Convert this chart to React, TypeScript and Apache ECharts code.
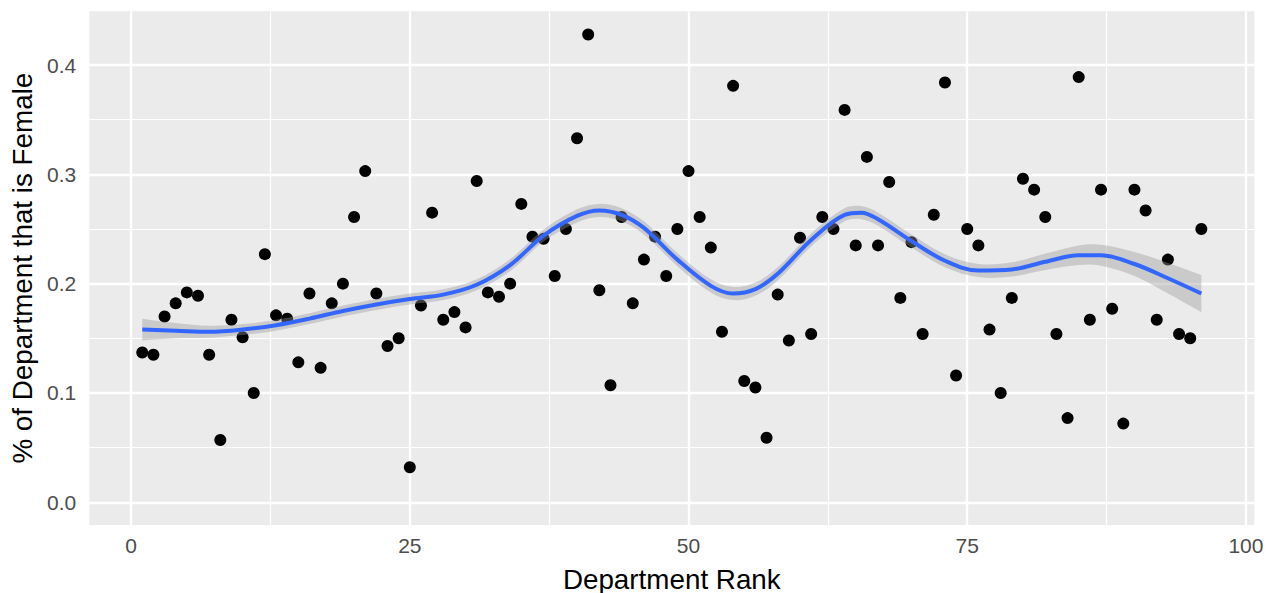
import React, { useEffect, useRef } from "react";
import * as echarts from "echarts";

// Share of each department that is female, by department rank 1..96
const femaleShare = [
  0.137, 0.135, 0.170, 0.182, 0.192, 0.189, 0.135, 0.057, 0.167, 0.151,
  0.100, 0.227, 0.171, 0.168, 0.128, 0.191, 0.123, 0.182, 0.200, 0.261,
  0.303, 0.191, 0.143, 0.150, 0.032, 0.180, 0.265, 0.167, 0.174, 0.160,
  0.294, 0.192, 0.188, 0.200, 0.273, 0.243, 0.241, 0.207, 0.250, 0.333,
  0.428, 0.194, 0.107, 0.261, 0.182, 0.222, 0.243, 0.207, 0.250, 0.303,
  0.261, 0.233, 0.156, 0.381, 0.111, 0.105, 0.059, 0.190, 0.148, 0.242,
  0.154, 0.261, 0.250, 0.359, 0.235, 0.316, 0.235, 0.293, 0.187, 0.238,
  0.154, 0.263, 0.384, 0.116, 0.250, 0.235, 0.158, 0.100, 0.187, 0.296,
  0.286, 0.261, 0.154, 0.077, 0.389, 0.167, 0.286, 0.177, 0.072, 0.286,
  0.267, 0.167, 0.222, 0.154, 0.150, 0.250,
];

// Loess fit
const smoothRank = [1, 4, 7, 10, 13, 16, 19, 22, 25, 28, 31, 34, 37, 40, 42, 44, 46, 49, 52, 54, 56, 58, 61, 64, 65.5, 67, 70, 73, 76, 79, 82, 85, 87, 90, 93, 96];
const smoothFit = [0.158, 0.157, 0.156, 0.158, 0.162, 0.168, 0.175, 0.181, 0.186, 0.190, 0.199, 0.217, 0.244, 0.262, 0.267, 0.263, 0.251, 0.222, 0.198, 0.191, 0.195, 0.209, 0.240, 0.263, 0.265, 0.259, 0.239, 0.221, 0.212, 0.213, 0.220, 0.226, 0.226, 0.218, 0.205, 0.191];
const smoothHalfWidth = [0.010, 0.007, 0.0055, 0.005, 0.005, 0.005, 0.005, 0.005, 0.005, 0.005, 0.005, 0.0055, 0.0055, 0.006, 0.006, 0.006, 0.006, 0.006, 0.006, 0.006, 0.006, 0.006, 0.006, 0.006, 0.006, 0.006, 0.006, 0.006, 0.006, 0.0065, 0.0075, 0.009, 0.0095, 0.011, 0.014, 0.017];

const xTicks = [0, 25, 50, 75, 100];
const xMinor = [12.5, 37.5, 62.5, 87.5];
const yTicks = [0, 0.1, 0.2, 0.3, 0.4];
const yMinor = [0.05, 0.15, 0.25, 0.35];

const SMOOTH = 0.35;

type Pt = number[];

function smoothSegments(ctx: any, pts: Pt[], moveFirst: boolean) {
  const n = pts.length;
  const cpPrev: Pt[] = [];
  const cpNext: Pt[] = [];
  for (let i = 0; i < n; i++) {
    const p = pts[i];
    if (i === 0 || i === n - 1) {
      cpPrev.push(p);
      cpNext.push(p);
      continue;
    }
    const p0 = pts[i - 1];
    const p2 = pts[i + 1];
    const vx = p2[0] - p0[0];
    const vy = p2[1] - p0[1];
    const d0 = Math.hypot(p[0] - p0[0], p[1] - p0[1]);
    const d1 = Math.hypot(p2[0] - p[0], p2[1] - p[1]);
    const sum = d0 + d1 || 1;
    cpPrev.push([p[0] - vx * SMOOTH * (d0 / sum), p[1] - vy * SMOOTH * (d0 / sum)]);
    cpNext.push([p[0] + vx * SMOOTH * (d1 / sum), p[1] + vy * SMOOTH * (d1 / sum)]);
  }
  if (moveFirst) ctx.moveTo(pts[0][0], pts[0][1]);
  else ctx.lineTo(pts[0][0], pts[0][1]);
  for (let i = 0; i < n - 1; i++) {
    ctx.bezierCurveTo(cpNext[i][0], cpNext[i][1], cpPrev[i + 1][0], cpPrev[i + 1][1], pts[i + 1][0], pts[i + 1][1]);
  }
}

let registered = false;
function registerRibbon() {
  if (registered) return;
  registered = true;
  const Ribbon = (echarts.graphic as any).extendShape({
    shape: { upper: [] as Pt[], lower: [] as Pt[] },
    buildPath(ctx: any, shape: { upper: Pt[]; lower: Pt[] }) {
      if (!shape.upper.length) return;
      smoothSegments(ctx, shape.upper, true);
      smoothSegments(ctx, shape.lower.slice().reverse(), false);
      ctx.closePath();
    },
  });
  echarts.graphic.registerShape("ribbon", Ribbon);
}

export default function App() {
  const ref = useRef<HTMLDivElement>(null);
  useEffect(() => {
    registerRibbon();
    const chart = echarts.init(ref.current!, null, { renderer: "svg" });
    const FONT = "'Liberation Sans', Arial, Helvetica, sans-serif";
    const major = { color: "#FFFFFF", width: 2.4, type: "solid" as const };
    const minor = { color: "#FFFFFF", width: 1.2, type: "solid" as const };
    const gridData = [
      ...xMinor.map((v) => ({ xAxis: v, lineStyle: minor })),
      ...yMinor.map((v) => ({ yAxis: v, lineStyle: minor })),
      ...xTicks.map((v) => ({ xAxis: v, lineStyle: major })),
      ...yTicks.map((v) => ({ yAxis: v, lineStyle: major })),
    ];
    const points = femaleShare.map((v, i) => [i + 1, v]);
    const fit = smoothRank.map((r, i) => [r, smoothFit[i]]);

    chart.setOption({
      animation: false,
      grid: {
        left: 89.3,
        right: 12.7,
        top: 11.3,
        bottom: 68,
        show: true,
        backgroundColor: "#EBEBEB",
        borderWidth: 0,
        containLabel: false,
        outerBoundsMode: "none",
      },
      xAxis: {
        type: "value",
        min: -3.75,
        max: 100.75,
        name: "Department Rank",
        nameLocation: "middle",
        nameGap: 40,
        nameTextStyle: { color: "#000000", fontSize: 27.8, fontFamily: FONT },
        axisLine: { show: false },
        axisTick: { show: true, customValues: xTicks, length: 7, lineStyle: { color: "#333333", width: 2 } },
        axisLabel: { customValues: xTicks, margin: 10, color: "#4D4D4D", fontSize: 21, fontFamily: FONT },
        splitLine: { show: false },
      },
      yAxis: {
        type: "value",
        min: -0.0208,
        max: 0.4492,
        name: "% of Department that is Female",
        nameLocation: "middle",
        nameGap: 50,
        nameRotate: 90,
        nameTextStyle: { color: "#000000", fontSize: 27.8, fontFamily: FONT },
        axisLine: { show: false },
        axisTick: { show: true, customValues: yTicks, length: 7, lineStyle: { color: "#333333", width: 2 } },
        axisLabel: {
          customValues: yTicks,
          margin: 13,
          color: "#4D4D4D",
          fontSize: 21,
          fontFamily: FONT,
          formatter: (v: number) => v.toFixed(1),
        },
        splitLine: { show: false },
      },
      series: [
        {
          type: "line",
          data: [],
          silent: true,
          z: 1,
          markLine: {
            silent: true,
            z: 1,
            symbol: ["none", "none"],
            label: { show: false },
            emphasis: { disabled: true },
            animation: false,
            data: gridData,
          },
        },
        {
          type: "scatter",
          data: points,
          symbol: "circle",
          symbolSize: 12,
          z: 3,
          itemStyle: { color: "#000000", opacity: 1 },
          silent: true,
        },
        {
          type: "custom",
          silent: true,
          z: 4,
          data: [0],
          renderItem: (_params: any, api: any) => {
            const upper = smoothRank.map((r, i) => api.coord([r, smoothFit[i] + smoothHalfWidth[i]]));
            const lower = smoothRank.map((r, i) => api.coord([r, smoothFit[i] - smoothHalfWidth[i]]));
            return {
              type: "ribbon",
              shape: { upper, lower },
              style: { fill: "rgba(153,153,153,0.4)", stroke: "none" },
            };
          },
        },
        {
          type: "line",
          data: fit,
          smooth: SMOOTH,
          showSymbol: false,
          z: 5,
          lineStyle: { color: "#3366FF", width: 4 },
          silent: true,
        },
      ],
    });
    return () => chart.dispose();
  }, []);
  return (
    <div
      ref={ref}
      style={{ position: "fixed", left: 0, top: 0, width: 1267, height: 593, background: "#FFFFFF" }}
    />
  );
}
